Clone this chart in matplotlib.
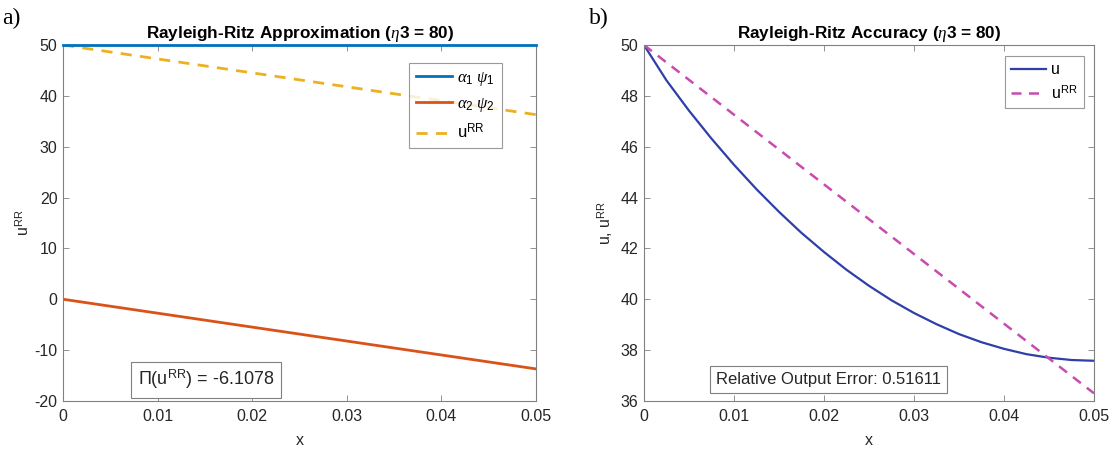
import matplotlib
matplotlib.use("Agg")
import matplotlib.pyplot as plt

plt.rcParams['font.family'] = ['Liberation Sans', 'DejaVu Sans']
plt.rcParams['mathtext.fontset'] = 'custom'
plt.rcParams['mathtext.rm'] = 'Liberation Sans'
plt.rcParams['mathtext.it'] = 'Liberation Serif:italic'
plt.rcParams['axes.unicode_minus'] = False

# ---- data ----
x_lin = [0.0, 0.05]
alpha1_psi1 = [50.0, 50.0]
alpha2_psi2 = [0.0, -13.7]
u_rr = [50.0, 36.3]

x_u = [0.0, 0.0025, 0.005, 0.0075, 0.01, 0.0125, 0.015, 0.0175, 0.02, 0.0225,
       0.025, 0.0275, 0.03, 0.0325, 0.035, 0.0375, 0.04, 0.0425, 0.045, 0.0475, 0.05]
u_exact = [50.0, 48.61, 47.42, 46.32, 45.29, 44.33, 43.44, 42.61, 41.86, 41.16,
           40.53, 39.96, 39.46, 39.02, 38.63, 38.31, 38.05, 37.84, 37.70, 37.61, 37.58]

x_ticks = [0, 0.01, 0.02, 0.03, 0.04, 0.05]
x_ticklabels = ['0', '0.01', '0.02', '0.03', '0.04', '0.05']
left_yticks = [-20, -10, 0, 10, 20, 30, 40, 50]
right_yticks = [36, 38, 40, 42, 44, 46, 48, 50]

left_title = r'Rayleigh-Ritz Approximation ($\eta$3 = 80)'
right_title = r'Rayleigh-Ritz Accuracy ($\eta$3 = 80)'
left_note = r'$\Pi$(u$^{\mathrm{RR}}$) = -6.1078'
right_note = 'Relative Output Error: 0.51611'

fig = plt.figure(figsize=(11.17, 4.5), dpi=100)
axL = fig.add_axes([0.0564, 0.109, 0.4235, 0.791])
axR = fig.add_axes([0.5765, 0.109, 0.4029, 0.791])

spine_c = '#808080'
fs = 11.5

def style(ax):
    for s in ax.spines.values():
        s.set_color(spine_c)
        s.set_linewidth(0.8)
    ax.tick_params(direction='in', length=4, width=0.6, colors=spine_c,
                   labelcolor='#262626', labelsize=fs, top=True, right=True, pad=4)
    ax.tick_params(axis='x', pad=6)
    ax.set_xlim(0, 0.05)
    ax.set_xticks(x_ticks)
    ax.set_xticklabels(x_ticklabels)
    ax.set_xlabel('x', fontsize=fs, color='#262626', labelpad=6)

# left
axL.plot(x_lin, alpha1_psi1, color='#0072BD', lw=2.0, label=r'$\alpha_1\ \psi_1$', clip_on=False, zorder=3)
axL.plot(x_lin, alpha2_psi2, color='#D95319', lw=2.0, label=r'$\alpha_2\ \psi_2$')
axL.plot(x_lin, u_rr, color='#EDB120', lw=2.0, ls=(0, (4, 3)), label=r'u$^{\mathrm{RR}}$')
style(axL)
axL.set_ylim(-20, 50)
axL.set_yticks(left_yticks)
axL.set_ylabel(r'u$^{\mathrm{RR}}$', fontsize=fs, color='#262626', labelpad=2)
axL.set_title(left_title, fontsize=12.3, fontweight='bold', pad=5)
legL = axL.legend(loc='upper right', bbox_to_anchor=(0.928, 0.949), borderaxespad=0,
                  fontsize=12, frameon=True,
                  fancybox=False, edgecolor='#808080', handlelength=2.2, borderpad=0.4,
                  labelspacing=0.5, handletextpad=0.3)
legL.get_frame().set_linewidth(0.8)
axL.text(0.158, 0.06, left_note, transform=axL.transAxes, fontsize=13, color='#262626',
         va='center', ha='left',
         bbox=dict(boxstyle='square,pad=0.35', fc='white', ec='#808080', lw=0.8))

# right
axR.plot(x_u, u_exact, color='#2E3FA8', lw=1.6, label='u')
axR.plot(x_lin, u_rr, color='#C84BB0', lw=1.8, ls=(0, (4, 3)), label=r'u$^{\mathrm{RR}}$')
style(axR)
axR.set_ylim(36, 50)
axR.set_yticks(right_yticks)
axR.set_ylabel(r'u, u$^{\mathrm{RR}}$', fontsize=fs, color='#262626', labelpad=4)
axR.set_title(right_title, fontsize=12.3, fontweight='bold', pad=5)
legR = axR.legend(loc='upper right', bbox_to_anchor=(0.978, 0.969), borderaxespad=0,
                  fontsize=fs, frameon=True,
                  fancybox=False, edgecolor='#808080', handlelength=2.2, borderpad=0.4,
                  labelspacing=0.4, handletextpad=0.3)
legR.get_frame().set_linewidth(0.8)
axR.text(0.16, 0.06, right_note, transform=axR.transAxes, fontsize=12, color='#262626',
         va='center', ha='left',
         bbox=dict(boxstyle='square,pad=0.35', fc='white', ec='#808080', lw=0.8))

fig.text(0.002, 0.958, 'a)', fontsize=17, family='Liberation Serif', va='center', ha='left')
fig.text(0.527, 0.958, 'b)', fontsize=17, family='Liberation Serif', va='center', ha='left')

fig.savefig('out.png', dpi=100)
